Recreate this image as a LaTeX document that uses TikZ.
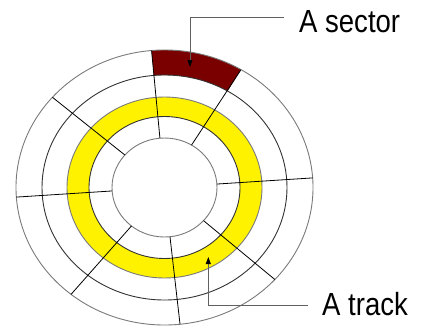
\documentclass[tikz,border=0pt]{standalone}
\usepackage{fontspec}
\setmainfont{Liberation Sans}
\usetikzlibrary{arrows.meta,calc}
\definecolor{sectred}{HTML}{7A0000}
\definecolor{ringgray}{HTML}{7A7A7A}
\definecolor{leadgray}{HTML}{606060}
\begin{document}
\begin{tikzpicture}[x=1pt,y=1pt,
  ringline/.style={draw=ringgray,line width=0.9pt},
  ringdark/.style={draw=black!80,line width=0.9pt},
  radial/.style={draw=black,line width=0.8pt},
  leader/.style={draw=leadgray,line width=0.9pt,-{Triangle[black,length=7pt,width=5pt]}},
  lbl/.style={inner sep=0pt,anchor=base west,font=\fontsize{32}{32}\selectfont}]
\useasboundingbox (0,0) rectangle (427,333);
\coordinate (c) at (164.5,145.5);
% yellow track
\fill[yellow,even odd rule] (c) ellipse[x radius=97.5,y radius=90.5] (c) ellipse[x radius=75.5,y radius=71];
% sector
\fill[sectred] ($(c)+(59:148.5 and 137.5)$) arc[start angle=59,end angle=95,x radius=148.5,y radius=137.5]
  -- ($(c)+(95:122.5 and 112.5)$) arc[start angle=95,end angle=59,x radius=122.5,y radius=112.5] -- cycle;
% rings
\draw[ringline] (c) ellipse[x radius=148.5,y radius=137.5];
\draw[ringdark] (c) ellipse[x radius=122.5,y radius=112.5];
\draw[ringline] (c) ellipse[x radius=97.5,y radius=90.5];
\draw[ringdark] (c) ellipse[x radius=75.5,y radius=71];
\draw[ringline] (c) ellipse[x radius=52.5,y radius=49.5];
% radial sector boundaries
\foreach \a in {4,59,95,139,184,231,276,318}
  \draw[radial] ($(c)+(\a:52.5 and 49.5)$) -- ($(c)+(\a:148.5 and 137.5)$);
% labels
\node[lbl] (sec) at (299,301) {\scalebox{0.86}[1]{A sector}};
\node[lbl] (trk) at (322,18) {\scalebox{0.86}[1]{A track}};
\coordinate (secstart) at (284,315.7);
\coordinate (sectip) at (190,266);
\coordinate (trkstart) at (308,28);
\coordinate (trktip) at (208.3,76);
\draw[leader] (secstart) -| (sectip);
\draw[leader] (trkstart) -| (trktip);
\end{tikzpicture}
\end{document}
